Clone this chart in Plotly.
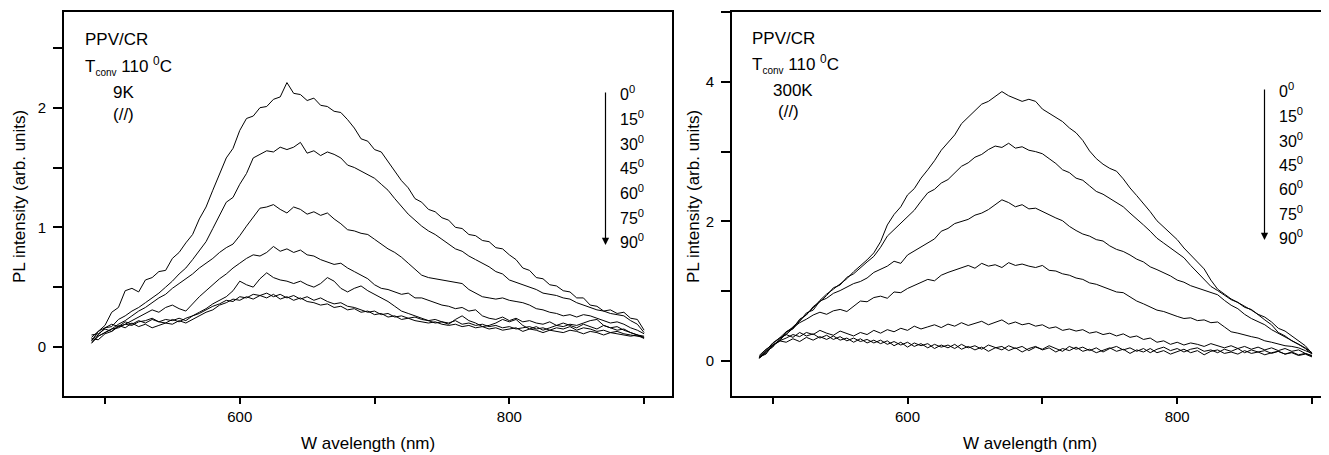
import plotly.graph_objects as go

# ---------------- data ----------------
wavelength = list(range(490, 905, 5))  # nm, 83 points
angles = ["0", "15", "30", "45", "60", "75", "90"]

# Left panel: 9K
left_0 = [0.05, 0.13, 0.18, 0.29, 0.33, 0.47, 0.49, 0.46, 0.56, 0.58,
          0.63, 0.64, 0.74, 0.79, 0.87, 0.94, 1.07, 1.17, 1.31, 1.44,
          1.58, 1.66, 1.81, 1.91, 1.93, 2.00, 2.01, 2.07, 2.09, 2.21,
          2.12, 2.11, 2.06, 2.08, 2.02, 2.01, 1.97, 1.96, 1.90, 1.83,
          1.74, 1.72, 1.65, 1.63, 1.55, 1.48, 1.39, 1.33, 1.24, 1.21,
          1.15, 1.13, 1.08, 1.06, 1.00, 0.99, 0.94, 0.93, 0.89, 0.88,
          0.83, 0.82, 0.77, 0.73, 0.66, 0.64, 0.58, 0.57, 0.52, 0.51,
          0.47, 0.46, 0.41, 0.41, 0.35, 0.34, 0.30, 0.31, 0.28, 0.29,
          0.24, 0.23, 0.14]
left_15 = [0.06, 0.10, 0.16, 0.17, 0.23, 0.26, 0.30, 0.33, 0.37, 0.41,
           0.45, 0.50, 0.55, 0.61, 0.66, 0.73, 0.80, 0.88, 0.99, 1.10,
           1.21, 1.25, 1.36, 1.45, 1.58, 1.61, 1.64, 1.63, 1.67, 1.65,
           1.67, 1.71, 1.62, 1.64, 1.60, 1.63, 1.61, 1.58, 1.52, 1.50,
           1.47, 1.44, 1.41, 1.36, 1.31, 1.24, 1.17, 1.11, 1.06, 1.01,
           0.97, 0.94, 0.90, 0.86, 0.82, 0.80, 0.76, 0.73, 0.70, 0.67,
           0.63, 0.61, 0.56, 0.54, 0.52, 0.50, 0.48, 0.45, 0.44, 0.43,
           0.41, 0.40, 0.37, 0.35, 0.33, 0.31, 0.30, 0.28, 0.27, 0.26,
           0.22, 0.19, 0.12]
left_30 = [0.04, 0.09, 0.12, 0.15, 0.19, 0.22, 0.26, 0.30, 0.33, 0.37,
           0.41, 0.44, 0.49, 0.53, 0.57, 0.61, 0.66, 0.70, 0.74, 0.79,
           0.83, 0.86, 0.93, 1.01, 1.09, 1.16, 1.17, 1.19, 1.15, 1.12,
           1.17, 1.15, 1.11, 1.13, 1.10, 1.12, 1.07, 1.03, 0.98, 0.97,
           0.95, 0.94, 0.90, 0.86, 0.82, 0.79, 0.75, 0.70, 0.65, 0.60,
           0.58, 0.57, 0.56, 0.55, 0.54, 0.53, 0.48, 0.45, 0.42, 0.41,
           0.40, 0.41, 0.39, 0.38, 0.37, 0.35, 0.32, 0.31, 0.29, 0.28,
           0.26, 0.27, 0.25, 0.27, 0.26, 0.24, 0.22, 0.20, 0.21, 0.19,
           0.16, 0.14, 0.11]
left_45 = [0.07, 0.06, 0.11, 0.13, 0.17, 0.19, 0.22, 0.25, 0.28, 0.31,
           0.29, 0.33, 0.35, 0.32, 0.30, 0.36, 0.42, 0.47, 0.52, 0.57,
           0.61, 0.66, 0.70, 0.74, 0.77, 0.76, 0.79, 0.84, 0.80, 0.82,
           0.79, 0.81, 0.77, 0.76, 0.73, 0.71, 0.69, 0.70, 0.66, 0.63,
           0.60, 0.57, 0.52, 0.49, 0.48, 0.46, 0.44, 0.45, 0.41, 0.41,
           0.39, 0.37, 0.35, 0.34, 0.32, 0.33, 0.30, 0.31, 0.26, 0.24,
           0.23, 0.25, 0.22, 0.24, 0.21, 0.22, 0.20, 0.19, 0.21, 0.18,
           0.17, 0.19, 0.18, 0.20, 0.22, 0.23, 0.18, 0.16, 0.14, 0.15,
           0.12, 0.10, 0.08]
left_60 = [0.03, 0.09, 0.12, 0.15, 0.16, 0.19, 0.18, 0.21, 0.22, 0.24,
           0.21, 0.23, 0.22, 0.24, 0.22, 0.26, 0.29, 0.32, 0.36, 0.39,
           0.42, 0.47, 0.55, 0.52, 0.50, 0.57, 0.62, 0.58, 0.56, 0.55,
           0.53, 0.55, 0.52, 0.50, 0.53, 0.58, 0.55, 0.49, 0.46, 0.49,
           0.51, 0.47, 0.44, 0.41, 0.38, 0.34, 0.30, 0.28, 0.26, 0.24,
           0.22, 0.20, 0.21, 0.19, 0.23, 0.26, 0.22, 0.20, 0.17, 0.18,
           0.20, 0.23, 0.21, 0.23, 0.18, 0.15, 0.17, 0.14, 0.16, 0.18,
           0.20, 0.18, 0.16, 0.19, 0.17, 0.15, 0.18, 0.16, 0.17, 0.14,
           0.12, 0.10, 0.09]
left_75 = [0.08, 0.13, 0.16, 0.19, 0.17, 0.21, 0.19, 0.22, 0.20, 0.23,
           0.21, 0.20, 0.23, 0.21, 0.24, 0.26, 0.28, 0.31, 0.34, 0.36,
           0.39, 0.38, 0.42, 0.41, 0.44, 0.43, 0.45, 0.42, 0.44, 0.41,
           0.43, 0.40, 0.42, 0.39, 0.41, 0.38, 0.36, 0.37, 0.34, 0.33,
           0.31, 0.29, 0.30, 0.27, 0.28, 0.25, 0.26, 0.24, 0.25, 0.23,
           0.22, 0.23, 0.21, 0.20, 0.22, 0.19, 0.20, 0.18, 0.19, 0.17,
           0.18, 0.16, 0.17, 0.15, 0.16, 0.17, 0.15, 0.16, 0.14, 0.16,
           0.15, 0.17, 0.14, 0.16, 0.15, 0.13, 0.14, 0.12, 0.13, 0.11,
           0.10, 0.09, 0.08]
left_90 = [0.10, 0.11, 0.15, 0.13, 0.18, 0.16, 0.20, 0.17, 0.19, 0.16,
           0.18, 0.20, 0.19, 0.22, 0.20, 0.23, 0.26, 0.29, 0.31, 0.35,
           0.37, 0.40, 0.39, 0.42, 0.40, 0.43, 0.41, 0.44, 0.40, 0.42,
           0.39, 0.41, 0.38, 0.37, 0.35, 0.36, 0.33, 0.34, 0.31, 0.32,
           0.29, 0.30, 0.27, 0.28, 0.25, 0.26, 0.23, 0.24, 0.22, 0.21,
           0.20, 0.21, 0.19, 0.18, 0.19, 0.17, 0.18, 0.16, 0.17, 0.15,
           0.16, 0.14, 0.15, 0.16, 0.13, 0.15, 0.14, 0.12, 0.14, 0.13,
           0.12, 0.14, 0.13, 0.11, 0.13, 0.12, 0.10, 0.12, 0.11, 0.10,
           0.09, 0.10, 0.07]

# Right panel: 300K
right_0 = [0.05, 0.12, 0.22, 0.30, 0.40, 0.49, 0.58, 0.68, 0.76, 0.87,
           0.96, 1.03, 1.11, 1.18, 1.28, 1.36, 1.45, 1.55, 1.71, 1.95,
           2.10, 2.21, 2.38, 2.47, 2.62, 2.74, 2.87, 3.02, 3.13, 3.24,
           3.40, 3.49, 3.58, 3.68, 3.72, 3.79, 3.86, 3.80, 3.76, 3.72,
           3.75, 3.72, 3.61, 3.55, 3.48, 3.43, 3.34, 3.27, 3.16, 3.01,
           2.90, 2.82, 2.76, 2.72, 2.61, 2.48, 2.37, 2.26, 2.14, 2.01,
           1.92, 1.83, 1.74, 1.62, 1.52, 1.41, 1.32, 1.16, 1.03, 0.96,
           0.89, 0.84, 0.79, 0.73, 0.67, 0.63, 0.56, 0.47, 0.43, 0.36,
           0.30, 0.22, 0.11]
right_15 = [0.04, 0.14, 0.20, 0.32, 0.38, 0.47, 0.60, 0.66, 0.78, 0.85,
            0.94, 1.05, 1.09, 1.20, 1.25, 1.34, 1.42, 1.50, 1.63, 1.79,
            1.88, 1.98, 2.07, 2.16, 2.29, 2.41, 2.46, 2.55, 2.60, 2.69,
            2.79, 2.84, 2.92, 2.96, 3.03, 3.08, 3.06, 3.12, 3.05, 3.07,
            3.02, 3.00, 2.97, 2.90, 2.83, 2.74, 2.70, 2.62, 2.59, 2.51,
            2.43, 2.39, 2.33, 2.26, 2.21, 2.12, 2.04, 1.95, 1.86, 1.76,
            1.69, 1.62, 1.55, 1.48, 1.37, 1.27, 1.18, 1.07, 1.01, 0.95,
            0.88, 0.84, 0.77, 0.74, 0.66, 0.59, 0.52, 0.41, 0.36, 0.29,
            0.24, 0.18, 0.10]
right_30 = [0.06, 0.10, 0.23, 0.28, 0.42, 0.46, 0.57, 0.69, 0.73, 0.86,
            0.90, 0.97, 1.01, 1.06, 1.11, 1.14, 1.19, 1.27, 1.31, 1.36,
            1.43, 1.40, 1.52, 1.58, 1.63, 1.70, 1.75, 1.86, 1.90, 1.97,
            2.00, 2.03, 2.09, 2.12, 2.17, 2.24, 2.31, 2.27, 2.21, 2.24,
            2.18, 2.19, 2.14, 2.10, 2.05, 2.01, 1.93, 1.87, 1.82, 1.79,
            1.74, 1.72, 1.65, 1.60, 1.57, 1.52, 1.46, 1.42, 1.35, 1.31,
            1.27, 1.22, 1.16, 1.13, 1.08, 1.05, 1.01, 0.98, 0.95, 0.87,
            0.80, 0.75, 0.67, 0.61, 0.56, 0.52, 0.45, 0.40, 0.35, 0.30,
            0.25, 0.19, 0.12]
right_45 = [0.05, 0.15, 0.25, 0.33, 0.42, 0.48, 0.55, 0.60, 0.66, 0.70,
            0.67, 0.72, 0.74, 0.71, 0.79, 0.86, 0.85, 0.91, 0.93, 0.90,
            0.99, 0.98, 1.04, 1.08, 1.12, 1.17, 1.15, 1.23, 1.27, 1.30,
            1.34, 1.37, 1.33, 1.40, 1.36, 1.38, 1.34, 1.41, 1.37, 1.39,
            1.36, 1.34, 1.37, 1.30, 1.29, 1.25, 1.23, 1.19, 1.17, 1.12,
            1.10, 1.06, 1.03, 0.99, 0.98, 0.92, 0.86, 0.82, 0.77, 0.73,
            0.71, 0.67, 0.64, 0.61, 0.62, 0.58, 0.59, 0.55, 0.56, 0.49,
            0.42, 0.40, 0.37, 0.35, 0.33, 0.29, 0.27, 0.24, 0.22, 0.21,
            0.19, 0.15, 0.11]
right_60 = [0.04, 0.12, 0.22, 0.29, 0.33, 0.38, 0.35, 0.41, 0.38, 0.44,
            0.40, 0.37, 0.43, 0.39, 0.36, 0.41, 0.38, 0.44, 0.40, 0.45,
            0.42, 0.47, 0.44, 0.50, 0.46, 0.49, 0.52, 0.48, 0.53, 0.50,
            0.55, 0.51, 0.54, 0.57, 0.52, 0.55, 0.59, 0.53, 0.56, 0.52,
            0.54, 0.50, 0.52, 0.47, 0.49, 0.44, 0.46, 0.43, 0.45, 0.40,
            0.42, 0.38, 0.40, 0.36, 0.39, 0.34, 0.36, 0.31, 0.33, 0.27,
            0.29, 0.24, 0.27, 0.23, 0.26, 0.24, 0.21, 0.25, 0.22, 0.19,
            0.22, 0.18, 0.21, 0.17, 0.20, 0.16, 0.19, 0.15, 0.18, 0.14,
            0.16, 0.11, 0.08]
right_75 = [0.06, 0.15, 0.26, 0.33, 0.38, 0.34, 0.41, 0.36, 0.39, 0.33,
            0.37, 0.31, 0.35, 0.29, 0.33, 0.28, 0.31, 0.26, 0.30, 0.24,
            0.28, 0.23, 0.27, 0.21, 0.25, 0.19, 0.24, 0.20, 0.23, 0.18,
            0.24, 0.19, 0.22, 0.17, 0.23, 0.20, 0.16, 0.22, 0.18, 0.21,
            0.15, 0.20, 0.17, 0.22, 0.18, 0.14, 0.21, 0.17, 0.20, 0.15,
            0.19, 0.13, 0.18, 0.21, 0.16, 0.19, 0.14, 0.18, 0.12, 0.17,
            0.20, 0.15, 0.18, 0.13, 0.17, 0.19, 0.14, 0.16, 0.12, 0.17,
            0.14, 0.18, 0.12, 0.16, 0.13, 0.15, 0.11, 0.14, 0.10, 0.13,
            0.09, 0.11, 0.07]
right_90 = [0.08, 0.17, 0.23, 0.29, 0.27, 0.32, 0.28, 0.34, 0.30, 0.35,
            0.31, 0.36, 0.30, 0.33, 0.27, 0.32, 0.26, 0.30, 0.25, 0.29,
            0.22, 0.27, 0.20, 0.26, 0.22, 0.25, 0.18, 0.23, 0.19, 0.24,
            0.17, 0.21, 0.16, 0.20, 0.14, 0.19, 0.21, 0.15, 0.19, 0.13,
            0.18, 0.21, 0.16, 0.19, 0.13, 0.18, 0.15, 0.20, 0.14, 0.17,
            0.12, 0.16, 0.19, 0.14, 0.17, 0.11, 0.16, 0.13, 0.18, 0.12,
            0.15, 0.10, 0.14, 0.17, 0.12, 0.15, 0.09, 0.14, 0.16, 0.11,
            0.13, 0.10, 0.15, 0.11, 0.13, 0.09, 0.12, 0.14, 0.10, 0.12,
            0.08, 0.10, 0.06]

left_series = [left_0, left_15, left_30, left_45, left_60, left_75, left_90]
right_series = [right_0, right_15, right_30, right_45, right_60, right_75, right_90]

# ---------------- figure ----------------
# The page body has an 8 px margin, so the figure is drawn 8 px smaller and
# all reference pixel positions are shifted by OFF.
OFF = 8
W, H = 1329 - OFF, 455 - OFF
MT = 12 - OFF            # plot top at page y = 12
MB = 455 - 396           # plot bottom at page y = 396
PH = H - MT - MB
FONT = "Arial, Liberation Sans, Helvetica, sans-serif"


def px(x):
    return (x - OFF) / W


def py(y):
    return (396 - y) / PH


fig = go.Figure()
for ys in left_series:
    fig.add_trace(go.Scatter(x=wavelength, y=ys, mode="lines",
                             line=dict(color="black", width=1),
                             xaxis="x", yaxis="y", showlegend=False,
                             hoverinfo="skip"))
for ys in right_series:
    fig.add_trace(go.Scatter(x=wavelength, y=ys, mode="lines",
                             line=dict(color="black", width=1),
                             xaxis="x2", yaxis="y2", showlegend=False,
                             hoverinfo="skip"))

tickfont = dict(family=FONT, size=15, color="black")
base = dict(showline=True, linecolor="black", linewidth=2, ticks="outside",
            tickcolor="black", tickwidth=1.5, showgrid=False, zeroline=False,
            tickfont=tickfont)

xcommon = dict(base, tick0=0, dtick=200, ticklen=6,
               minor=dict(tick0=0, dtick=100, ticklen=6, ticks="outside",
                          tickcolor="black", tickwidth=1.5, showgrid=False))

fig.update_layout(
    width=W, height=H,
    margin=dict(l=0, r=0, t=MT, b=MB),
    paper_bgcolor="white", plot_bgcolor="white",
    font=dict(family=FONT, color="black"),
    xaxis=dict(xcommon, domain=[px(64), px(672)], range=[469.6, 920.7],
               anchor="y", mirror=True),
    yaxis=dict(base, domain=[0, 1], range=[-0.41, 2.8], anchor="x",
               mirror=True, tick0=0, dtick=1, ticklen=9, ticklabelstandoff=4,
               minor=dict(tick0=0, dtick=0.5, ticklen=9, ticks="outside",
                          tickcolor="black", tickwidth=1.5, showgrid=False)),
    xaxis2=dict(xcommon, domain=[px(732), 1], range=[469.8, 912.6],
                anchor="y2", mirror=True),
    yaxis2=dict(base, domain=[0, 1], range=[-0.5, 5.0], anchor="x2",
                mirror=False, tick0=0, dtick=2, ticklen=9, ticklabelstandoff=4,
                minor=dict(tick0=0, dtick=1, ticklen=9, ticks="outside",
                           tickcolor="black", tickwidth=1.5, showgrid=False)),
)

ann = []


def text(x, y, s, size=16, xanchor="left", angle=0):
    ann.append(dict(x=px(x), y=py(y), xref="paper", yref="paper", text=s,
                    showarrow=False, xanchor=xanchor, yanchor="middle",
                    textangle=angle,
                    font=dict(family=FONT, size=size, color="black")))


tconv = "T<sub><span style='font-size:10px'>conv</span></sub> 110 <sup>0</sup>C"

# left panel labels
text(83, 40, "PPV/CR", size=17)
text(83, 66, tconv, size=17)
text(111, 92, "9K", size=17)
text(111, 114, "(//)", size=17)
# right panel labels
text(750, 38, "PPV/CR", size=17)
text(750, 64, tconv, size=17)
text(771, 90, "300K", size=17)
text(776, 112, "(//)", size=17)

# axis titles
text(19, 197, "PL intensity (arb. units)", size=17, xanchor="center", angle=-90)
text(693, 197, "PL intensity (arb. units)", size=17, xanchor="center", angle=-90)
text(368, 443, "W avelength (nm)", size=17, xanchor="center")
text(1030, 443, "W avelength (nm)", size=17, xanchor="center")

# angle legends with arrows
left_label_y = [93, 118, 143, 167, 192, 217, 241]
right_label_y = [90, 115, 140, 164, 188, 213, 237]
for a, yy in zip(angles, left_label_y):
    text(618, yy, a + "<sup>0</sup>", size=16)
for a, yy in zip(angles, right_label_y):
    text(1277, yy, a + "<sup>0</sup>", size=16)

for (ax_x, y0, y1) in [(605.5, 91, 245), (1264.5, 88, 240)]:
    ann.append(dict(x=px(ax_x), y=py(y1), xref="paper", yref="paper",
                    ax=0, ay=-(y1 - y0), axref="pixel", ayref="pixel",
                    text="", showarrow=True, arrowhead=2, arrowsize=1.2,
                    arrowwidth=1.2, arrowcolor="black"))

fig.update_layout(annotations=ann)

fig.write_html("out.html")
